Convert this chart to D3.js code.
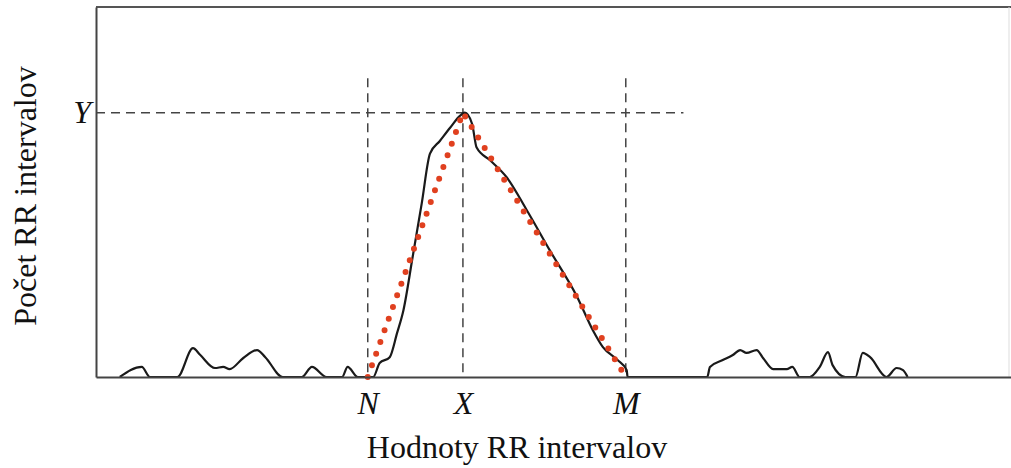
<!DOCTYPE html>
<html>
<head>
<meta charset="utf-8">
<script src="https://cdn.jsdelivr.net/npm/d3@7"></script>
<style>
  body { margin: 0; background: #fff; }
  svg text { font-family: 'Liberation Serif', 'Times New Roman', serif; fill: #111; }
</style>
</head>
<body>
<div id="histogram"></div>
<script>
// RR interval values (arbitrary units) and counts
const rrValues = [26, 50, 59, 89, 106, 114, 130, 139, 146, 161, 176, 185, 204, 225, 236, 252, 269, 275, 286,
  303, 310, 321, 329, 336, 346, 356, 365, 376, 387, 398, 403, 411, 416, 431, 449, 471, 496, 526, 543, 554,
  570, 580, 581, 668, 671, 685, 696, 704, 711, 722, 729, 740, 755, 761, 769, 780, 791, 800, 805, 819, 830,
  838, 846, 864, 875, 882, 887];
const rrCounts = [0, 3.8, 0, 0, 10.9, 8.3, 3.4, 3.8, 3.0, 7.2, 10.2, 7.5, 0, 0, 3.8, 0, 0, 3.8, 0,
  0, 5.3, 7.5, 16.6, 25.3, 45.3, 65.7, 84.5, 89.4, 94.3, 98.9, 100, 95.8, 86.8, 81.9, 75.5, 63, 47.9, 30.2, 17.7, 11.3,
  6.4, 2.6, 0, 0, 3.8, 6.4, 8.3, 10.2, 9.1, 10.2, 7.2, 3, 3, 3.8, 0, 0, 3.8, 9.4, 4.5, 0, 0,
  9.1, 7.5, 0, 3.4, 2.6, 0];

// markers on the x axis (N, X, M) and the peak count Y
const markerLabels = ['N', 'X', 'M'];
const markerValues = [297, 401, 579];
const peakLabel = 'Y';
const peakValue = 100;

// triangular interpolation N -> (X,Y) -> M
const triangleX = [297, 401, 579];
const triangleY = [0, 100, 0];

const width = 1011;
const height = 468;
const margin = {top: 7, right: 0, bottom: 91, left: 96};

const guideTop = 113;     // how high the vertical dashed guides reach
const guideRight = 642;   // where the horizontal Y guide ends

const svg = d3.select('#histogram')
  .append('svg')
    .attr('width', width)
    .attr('height', height);

const x = d3.scaleLinear()
  .domain([0, 1000])
  .range([margin.left, width - margin.right]);

const y = d3.scaleLinear()
  .domain([0, 140])
  .range([height - margin.bottom, margin.top]);

// top and right frame
svg.append('line')
  .attr('x1', x(0)).attr('x2', x(1000))
  .attr('y1', y(140)).attr('y2', y(140))
  .attr('stroke', '#555').attr('stroke-width', 2);
svg.append('line')
  .attr('x1', x(1000) - 2).attr('x2', x(1000) - 2)
  .attr('y1', y(140)).attr('y2', y(0))
  .attr('stroke', '#ddd').attr('stroke-width', 1);

// dashed guides
const guides = svg.append('g')
  .attr('stroke', '#444')
  .attr('stroke-width', 1.5)
  .attr('stroke-dasharray', '9 6');
guides.selectAll('line.vguide')
  .data(markerValues)
  .join('line')
    .attr('class', 'vguide')
    .attr('x1', d => x(d)).attr('x2', d => x(d))
    .attr('y1', y(guideTop)).attr('y2', y(0));
guides.append('line')
  .attr('x1', x(0)).attr('x2', x(guideRight))
  .attr('y1', y(peakValue)).attr('y2', y(peakValue));

// histogram envelope
const line = d3.line()
  .x(d => x(d[0]))
  .y(d => y(d[1]))
  .curve(d3.curveMonotoneX);

svg.append('path')
  .datum(rrValues.map((v, i) => [v, rrCounts[i]]))
  .attr('fill', 'none')
  .attr('stroke', '#1a1a1a')
  .attr('stroke-width', 2.2)
  .attr('stroke-linejoin', 'round')
  .attr('d', line);

// red dotted triangle
svg.append('path')
  .datum(triangleX.map((v, i) => [v, triangleY[i]]))
  .attr('fill', 'none')
  .attr('stroke', '#e0401f')
  .attr('stroke-width', 6)
  .attr('stroke-linecap', 'round')
  .attr('stroke-dasharray', '0 12.4')
  .attr('d', d3.line().x(d => x(d[0])).y(d => y(d[1])));

// x axis (baseline) with N, X, M
const xAxis = svg.append('g')
  .attr('transform', 'translate(0,' + y(0) + ')')
  .call(d3.axisBottom(x)
    .tickValues(markerValues)
    .tickFormat((d, i) => markerLabels[i])
    .tickSize(0)
    .tickSizeOuter(0)
    .tickPadding(14));

// y axis (left frame) with Y
const yAxis = svg.append('g')
  .attr('transform', 'translate(' + x(0) + ',0)')
  .call(d3.axisLeft(y)
    .tickValues([peakValue])
    .tickFormat(() => peakLabel)
    .tickSize(0)
    .tickSizeOuter(0)
    .tickPadding(5));

[xAxis, yAxis].forEach(g => {
  g.select('.domain').attr('stroke', '#444').attr('stroke-width', 2);
  g.selectAll('text')
    .style('font-family', "'Liberation Serif', 'Times New Roman', serif")
    .style('font-style', 'italic')
    .style('font-size', '32px')
    .attr('fill', '#111');
});

// axis titles
svg.append('text')
  .attr('x', 517)
  .attr('y', 458)
  .attr('text-anchor', 'middle')
  .style('font-size', '32px')
  .text('Hodnoty RR intervalov');

svg.append('text')
  .attr('transform', 'translate(36,196) rotate(-90)')
  .attr('text-anchor', 'middle')
  .style('font-size', '32px')
  .text('Počet RR intervalov');
</script>
</body>
</html>
